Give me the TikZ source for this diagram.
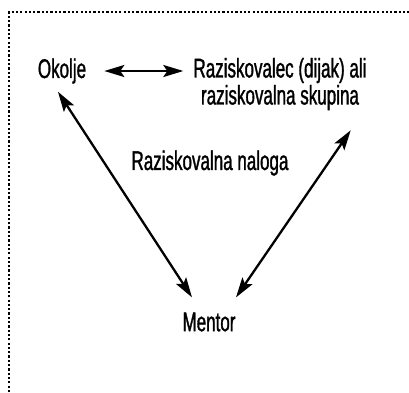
\documentclass[tikz,border=0pt]{standalone}
\usepackage{fontspec}
\setmainfont{Liberation Sans}[FakeStretch=0.63,FakeBold=1.2]
\usetikzlibrary{arrows.meta}

\begin{document}
\begin{tikzpicture}
[x=1pt,y=-1pt,%
  labeldecorate/.style={inner sep=0pt,align=center,font=\fontsize{27}{27}\selectfont},%
  linedecorate/.style={{Stealth[length=20pt,width=12pt,inset=4pt]}-{Stealth[length=20pt,width=12pt,inset=4pt]},line width=2.3pt},%
  framedecorate/.style={line width=2.2pt,dash pattern=on 2.2pt off 2.1pt}]
\useasboundingbox (0,0) rectangle (409,392);
%% frame
\draw[framedecorate] (9,392) -- (9,12) -- (409,12);
%% nodes or labels
\foreach \nodename/\x/\y/\nodetext in {okolje/62/71/Okolje,
  razisk/280/84/{Raziskovalec (dijak) ali\\raziskovalna skupina},
  naloga/210/163/Raziskovalna naloga, mentor/209/322/Mentor}
{
  \node (\nodename) at (\x,\y) [labeldecorate] {\nodetext};
}
%% edges or lines
\draw[linedecorate,shorten <=18pt,shorten >=10pt] (okolje.east) -- (okolje.east -| razisk.west);
\draw[linedecorate] ([xshift=-4pt,yshift=-8pt]okolje.south) -- ([xshift=-17pt,yshift=15pt]mentor.north);
\draw[linedecorate] ([xshift=-16pt,yshift=-20pt]razisk.south east) -- ([xshift=27pt,yshift=15pt]mentor.north);
\end{tikzpicture}
\end{document}
